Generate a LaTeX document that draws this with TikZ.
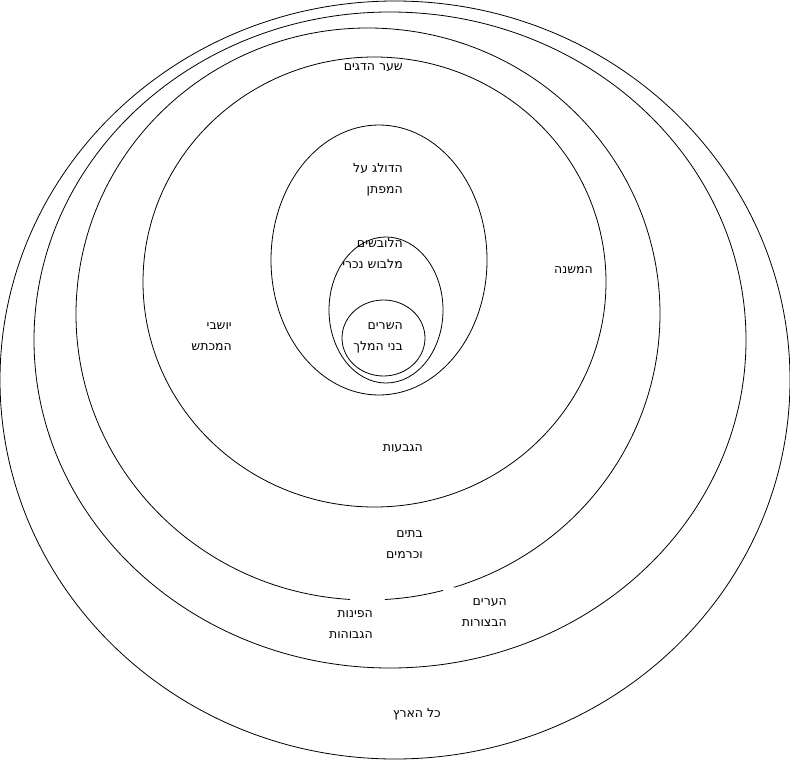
\documentclass[tikz,border=0pt]{standalone}
\usepackage{fontspec}
\setmainfont{DejaVu Sans}
\newfontfamily\hebfont[Script=Hebrew]{DejaVu Sans}
\TeXXeTstate=1
\begin{document}
\begin{tikzpicture}[x=1pt,y=-1pt,
  ring/.style={draw=black,line width=0.8pt},
  lbl/.style={font=\hebfont\fontsize{12.5}{21}\selectfont,align=right,inner sep=0pt,anchor=east}]
\useasboundingbox (0,0) rectangle (790,760);
% nested regions
\draw[ring] (395,380) ellipse [x radius=395,y radius=379];
\draw[ring] (390,340) ellipse [x radius=356,y radius=328];
\draw[ring] ([shift={(368,314)}]93.5:292 and 286) arc[start angle=93.5,end angle=432.9,x radius=292,y radius=286];
\draw[ring] ([shift={(368,314)}]75.1:292 and 286) arc[start angle=75.1,end angle=86.7,x radius=292,y radius=286];
\draw[ring] (374.5,282) ellipse [x radius=231.5,y radius=225];
\draw[ring] (379,260) ellipse [x radius=108,y radius=135];
\draw[ring] (386,310) ellipse [x radius=57,y radius=73];
\draw[ring] (383.5,338) ellipse [x radius=41.5,y radius=38];
% labels
\node[lbl] (shaar) at (403,68) {\beginR שער הדגים\endR};
\node[lbl] (doleg) at (403,180) {\beginR הדולג על\endR\\\beginR המפתן\endR};
\node[lbl] (lovshim) at (403,253) {\beginR הלובשים\endR\\\beginR מלבוש נכרי\endR};
\node[lbl] (sarim) at (403,338) {\beginR השרים\endR\\\beginR בני המלך\endR};
\node[lbl] (mishne) at (593,270) {\beginR המשנה\endR};
\node[lbl] (makhtesh) at (232,337) {\beginR יושבי\endR\\\beginR המכתש\endR};
\node[lbl] (gvaot) at (423,449) {\beginR הגבעות\endR};
\node[lbl] (batim) at (423,544.5) {\beginR בתים\endR\\\beginR וכרמים\endR};
\node[lbl] (pinot) at (373,625) {\beginR הפינות\endR\\\beginR הגבוהות\endR};
\node[lbl] (arim) at (507,613) {\beginR הערים\endR\\\beginR הבצורות\endR};
\node[lbl] (aretz) at (441,714) {\beginR כל הארץ\endR};
\end{tikzpicture}
\end{document}
